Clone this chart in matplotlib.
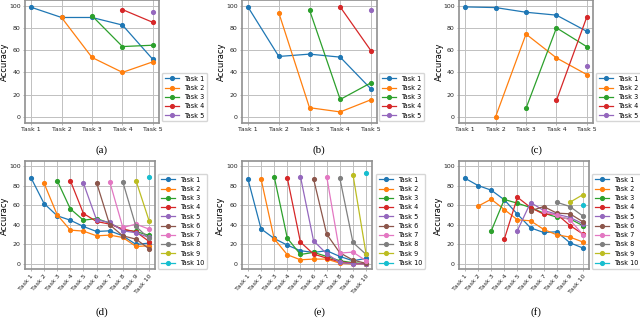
import numpy as np
import matplotlib.pyplot as plt

nan = np.nan

tasks5 = ['Task 1', 'Task 2', 'Task 3', 'Task 4', 'Task 5']
tasks10 = ['Task %d' % i for i in range(1, 11)]

# linha = tarefa avaliada, coluna = tarefa treinada
acc_a = [
    [98.5, 89.3, 89.3, 82.5, 51.6],
    [nan, 89.3, 53.4, 40.0, 49.5],
    [nan, nan, 90.8, 63.2, 64.4],
    [nan, nan, nan, 96.4, 84.9],
    [nan, nan, nan, nan, 94.4],
]
acc_b = [
    [98.5, 54.3, 56.4, 53.7, 25.2],
    [nan, 93.5, 8.3, 4.5, 15.4],
    [nan, nan, 96.1, 15.7, 30.6],
    [nan, nan, nan, 98.8, 59.6],
    [nan, nan, nan, nan, 96.1],
]
acc_c = [
    [98.8, 98.2, 94.0, 91.4, 76.8],
    [nan, 0.0, 74.4, 53.0, 38.0],
    [nan, nan, 7.7, 80.0, 63.0],
    [nan, nan, nan, 14.9, 90.0],
    [nan, nan, nan, nan, 45.8],
]
acc_d = [
    [88.1, 61.7, 49.2, 44.7, 38.3, 33.2, 33.9, 28.8, 20.0, 21.4],
    [nan, 82.4, 50.2, 34.6, 33.6, 28.8, 29.5, 27.1, 18.0, 18.6],
    [nan, nan, 85.1, 56.3, 44.7, 46.4, 41.7, 34.9, 33.2, 29.2],
    [nan, nan, nan, 85.1, 51.5, 43.4, 40.7, 35.6, 32.9, 23.0],
    [nan, nan, nan, nan, 82.4, 45.0, 42.4, 33.9, 31.9, 27.1],
    [nan, nan, nan, nan, nan, 83.0, 40.0, 28.8, 25.4, 15.6],
    [nan, nan, nan, nan, nan, nan, 84.0, 37.3, 40.7, 35.6],
    [nan, nan, nan, nan, nan, nan, nan, 83.7, 38.3, 26.1],
    [nan, nan, nan, nan, nan, nan, nan, nan, 85.1, 44.1],
    [nan, nan, nan, nan, nan, nan, nan, nan, nan, 88.5],
]
acc_e = [
    [86.8, 35.9, 26.1, 19.3, 13.6, 11.9, 13.6, 7.8, 3.4, 5.8],
    [nan, 86.8, 25.8, 9.5, 4.4, 5.1, 5.1, 1.0, 0.0, 0.3],
    [nan, nan, 89.2, 26.4, 9.8, 11.9, 7.8, 3.4, 1.4, 0.3],
    [nan, nan, nan, 87.8, 22.4, 10.2, 6.1, 2.4, 0.7, 0.3],
    [nan, nan, nan, nan, 89.2, 23.7, 10.5, 1.7, 0.3, 0.0],
    [nan, nan, nan, nan, nan, 86.8, 30.5, 11.5, 4.1, 0.7],
    [nan, nan, nan, nan, nan, nan, 89.2, 11.2, 12.2, 3.4],
    [nan, nan, nan, nan, nan, nan, nan, 87.5, 22.0, 9.8],
    [nan, nan, nan, nan, nan, nan, nan, nan, 91.2, 10.2],
    [nan, nan, nan, nan, nan, nan, nan, nan, nan, 93.2],
]
acc_f = [
    [87.5, 80.0, 75.3, 65.5, 50.8, 36.9, 32.2, 32.9, 21.7, 16.3],
    [nan, 59.0, 66.1, 55.6, 45.1, 44.1, 35.3, 29.8, 27.5, 22.4],
    [nan, nan, 33.6, 65.8, 62.0, 57.6, 51.9, 47.8, 46.1, 39.0],
    [nan, nan, nan, 25.4, 68.1, 57.6, 50.8, 50.8, 39.3, 30.5],
    [nan, nan, nan, nan, 34.2, 62.7, 54.6, 50.8, 47.5, 41.0],
    [nan, nan, nan, nan, nan, 54.2, 58.6, 51.9, 51.2, 43.0],
    [nan, nan, nan, nan, nan, nan, 53.6, 49.5, 45.0, 29.8],
    [nan, nan, nan, nan, nan, nan, nan, 63.0, 58.6, 48.8],
    [nan, nan, nan, nan, nan, nan, nan, nan, 63.0, 70.8],
    [nan, nan, nan, nan, nan, nan, nan, nan, nan, 60.3],
]

W, H = 640, 318
fig = plt.figure(figsize=(6.4, 3.18), dpi=100)
fig.set_facecolor('white')

# dados, rótulos, eixos em px (esq, topo, dir, base), legenda (x, y), rótulo y (x, y), legenda do painel
panels = [
    (acc_a, tasks5, (25, 0, 159, 122.5), (162, 73), 4, 62, '(a)', 102, 150),
    (acc_b, tasks5, (242, 0, 377, 122.5), (379, 73), 221, 62, '(b)', 319, 150),
    (acc_c, tasks5, (459, 0, 593, 122.5), (596, 73), 439, 62, '(c)', 536, 150),
    (acc_d, tasks10, (25, 161, 155, 269), (158, 174), 4, 216, '(d)', 102, 312),
    (acc_e, tasks10, (242, 161, 372, 269), (376, 174), 220, 216, '(e)', 319, 312),
    (acc_f, tasks10, (459, 161, 589, 269), (592, 174), 438, 216, '(f)', 536, 312),
]

for acc, labels, box, leg, ylx, yly, cap, capx, capy in panels:
    l, t, r, b = box
    ax = fig.add_axes([l / W, 1 - b / H, (r - l) / W, (b - t) / H])
    x = np.arange(len(labels))
    for j, row in enumerate(acc):
        ax.plot(x, row, marker='o', markersize=2.7, linewidth=0.9, label=labels[j])
    ax.set_ylim(-5, 105)
    ax.set_yticks([0, 20, 40, 60, 80, 100])
    ax.set_xticks(x)
    if len(labels) > 5:
        ax.set_xticklabels(labels, rotation=50, ha='right', rotation_mode='anchor')
    else:
        ax.set_xticklabels(labels)
    ax.grid(True, color='#c0c0c0', linewidth=0.7)
    ax.set_axisbelow(True)
    ax.tick_params(labelsize=4.5, length=1.5, width=0.5, pad=1.5, color='#999999', labelcolor='#222222')
    for s in ax.spines.values():
        s.set_color('#909090')
        s.set_linewidth(1.2)
    ax.legend(loc='upper left', bbox_to_anchor=(leg[0] / W, 1 - leg[1] / H),
              bbox_transform=fig.transFigure, fontsize=4.7, borderaxespad=0,
              handlelength=2.2, labelspacing=0.5)
    fig.text(ylx / W, 1 - yly / H, 'Accuracy', rotation=90, ha='center', va='center', fontsize=6)
    fig.text(capx / W, 1 - capy / H, cap, ha='center', va='center',
             fontsize=7.8, family='Liberation Serif')

fig.savefig('out.png', dpi=100)
